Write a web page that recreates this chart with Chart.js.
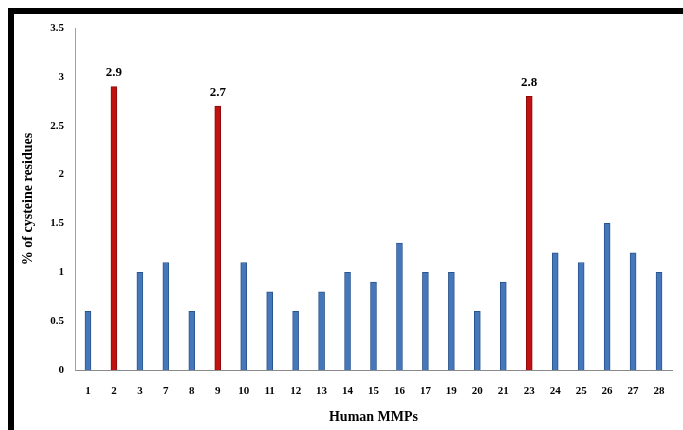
<!DOCTYPE html>
<html>
<head>
<meta charset="utf-8">
<script src="https://cdn.jsdelivr.net/npm/chart.js@4"></script>
<style>
  html, body { margin: 0; padding: 0; background: #fff; }
  #wrap { width: 683px; height: 430px; position: relative; }
</style>
</head>
<body>
<div id="wrap"><canvas id="mmp"></canvas></div>
<script>
// MMP numbers and % cysteine residues
const mmps = ['1','2','3','7','8','9','10','11','12','13','14','15','16','17','19','20','21','23','24','25','26','27','28'];
const cysteine = [0.6, 2.9, 1.0, 1.1, 0.6, 2.7, 1.1, 0.8, 0.6, 0.8, 1.0, 0.9, 1.3, 1.0, 1.0, 0.6, 0.9, 2.8, 1.2, 1.1, 1.5, 1.2, 1.0];
const highlighted = ['2', '9', '23'];
const yTicks = [0, 0.5, 1, 1.5, 2, 2.5, 3, 3.5];

const serif = '"Liberation Serif", "Times New Roman", serif';
const isHi = i => highlighted.includes(mmps[i]);

// black frame (top + left edge) like the original figure
const framePlugin = {
  id: 'frame',
  afterDraw(chart) {
    const c = chart.ctx;
    c.save();
    c.fillStyle = '#000';
    c.fillRect(8, 8, chart.width - 8, 6);
    c.fillRect(8, 8, 6, chart.height - 8);
    c.restore();
  }
};

// value labels above the red bars
const valueLabels = {
  id: 'valueLabels',
  afterDatasetsDraw(chart) {
    const c = chart.ctx;
    const meta = chart.getDatasetMeta(0);
    c.save();
    c.font = 'bold 13px ' + serif;
    c.fillStyle = '#000';
    c.textAlign = 'center';
    c.textBaseline = 'middle';
    meta.data.forEach((bar, i) => {
      if (!isHi(i)) return;
      c.fillText(cysteine[i].toFixed(1), bar.x, bar.y - 14);
    });
    c.restore();
  }
};

new Chart(document.getElementById('mmp'), {
  type: 'bar',
  data: {
    labels: mmps,
    datasets: [{
      data: cysteine,
      backgroundColor: mmps.map((m, i) => isHi(i) ? '#c01212' : '#4677bb'),
      borderColor: mmps.map((m, i) => isHi(i) ? '#8c0a0a' : '#2a568f'),
      borderWidth: 1,
      borderSkipped: 'bottom',
      barThickness: 6,
    }],
  },
  options: {
    responsive: true, maintainAspectRatio: false, animation: false,
    layout: { padding: { top: 28, right: 11, left: 0, bottom: 0 } },
    plugins: { legend: { display: false }, tooltip: { enabled: false } },
    scales: {
      x: {
        grid: { display: false, drawTicks: false },
        border: { color: '#8a8a8a', width: 1 },
        ticks: { color: '#000', font: { family: serif, size: 11, weight: 'bold' }, padding: 15, maxRotation: 0, autoSkip: false },
        title: { display: true, text: 'Human MMPs', color: '#000', font: { family: serif, size: 14, weight: 'bold' }, padding: { top: 0, bottom: 4 } },
        afterFit: s => { s.height = 60; },
      },
      y: {
        min: 0, max: 3.5,
        afterBuildTicks: s => { s.ticks = yTicks.map(v => ({ value: v })); },
        grid: { display: false, drawTicks: false },
        border: { color: '#a0a0a0', width: 1 },
        ticks: { color: '#000', font: { family: serif, size: 11, weight: 'bold' }, padding: 11, callback: v => String(v) },
        title: { display: true, text: '% of cysteine residues', color: '#000', font: { family: serif, size: 14, weight: 'bold' }, padding: { top: 20, bottom: 0 } },
        afterFit: s => { s.width = 75; },
      },
    },
  },
  plugins: [framePlugin, valueLabels],
});
</script>
</body>
</html>
